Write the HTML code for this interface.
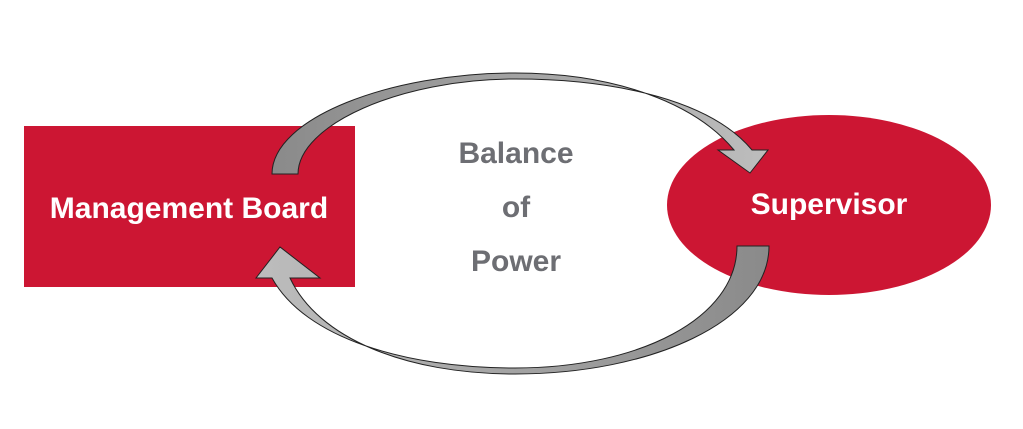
<!DOCTYPE html>
<html><head><style>
body{margin:0;background:#fff;width:1023px;height:424px;overflow:hidden}
</style></head><body>
<svg width="1023" height="424" viewBox="0 0 1023 424" xmlns="http://www.w3.org/2000/svg">
<defs>
<linearGradient id="g1" x1="0" y1="0" x2="1" y2="0"><stop offset="0" stop-color="#8a8a8a"/><stop offset="1" stop-color="#bdbdbd"/></linearGradient>
<linearGradient id="g2" x1="1" y1="0" x2="0" y2="0"><stop offset="0" stop-color="#8a8a8a"/><stop offset="1" stop-color="#bdbdbd"/></linearGradient>
</defs>
<rect x="24" y="126" width="331" height="161" fill="#cc1633"/>
<ellipse cx="829" cy="205" rx="162" ry="90" fill="#cc1633"/>
<path d="M272,174 C272,118 390,73 515,73 C615,73 695,103 734,150 L718,150 L750,173 L768,150 L752,150 C712,102 620,79 515,79 C400,79 298,125 298,174 Z" fill="url(#g1)" stroke="#222" stroke-width="1"/>
<path d="M737,246 L769,246 C769,322 650,374 515,374 C405,374 318,338 290,278 L320,278 L280,247 L256,278 L272,278 C305,338 405,368 515,368 C640,368 737,318 737,246 Z" fill="url(#g2)" stroke="#222" stroke-width="1"/>
<g font-family="Liberation Sans, sans-serif" font-weight="bold">
<text x="189" y="218" font-size="30" fill="#fff" text-anchor="middle">Management Board</text>
<text x="829" y="214" font-size="30" fill="#fff" text-anchor="middle">Supervisor</text>
<text x="516" y="163" font-size="30" fill="#6d6e73" text-anchor="middle">Balance</text>
<text x="516" y="217" font-size="30" fill="#6d6e73" text-anchor="middle">of</text>
<text x="516" y="271" font-size="30" fill="#6d6e73" text-anchor="middle">Power</text>
</g>
</svg>
</body></html>
